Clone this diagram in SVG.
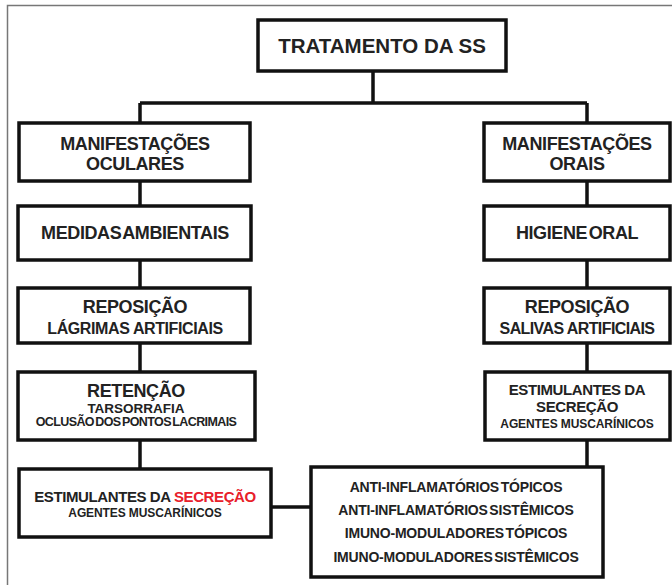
<svg xmlns="http://www.w3.org/2000/svg" width="672" height="585" viewBox="0 0 672 585">
<style>
.box{fill:#fff;stroke:#111;stroke-width:3.5}
.conn{fill:none;stroke:#111;stroke-width:3.5}
text{font-family:"Liberation Sans",Arial,sans-serif;font-weight:bold;fill:#222;text-anchor:middle}
.t20{font-size:20.5px}
.t18{font-size:18px;letter-spacing:-0.4px}
.t16{font-size:16px;letter-spacing:-0.4px}
.t15{font-size:15px;letter-spacing:-0.4px}
.t14{font-size:14px;letter-spacing:-0.2px;word-spacing:-2px}
.t13{font-size:13.5px}
.t12{font-size:12px;letter-spacing:-0.1px}
.t125{font-size:12.5px;letter-spacing:-0.6px;word-spacing:-1.5px}
.red{fill:#e8202a}
</style>
<rect x="7.5" y="5.5" width="700" height="700" fill="none" stroke="#777" stroke-width="1.5"/>
<g id="connectors">
<path class="conn" d="M373 71V103M140 103H587M140 103V123M587 103V123"/>
<path class="conn" d="M140 181V206M140 260V288M140 343V372M140 440V469"/>
<path class="conn" d="M587 181V206M587 260V288M587 343V372M587 440V467"/>
<path class="conn" d="M271 507H311"/>
</g>
<g id="title"><rect class="box" x="258" y="20" width="248" height="51"/><text class="t20" x="382" y="53">TRATAMENTO DA SS</text></g>
<g id="man-oculares"><rect class="box" x="19" y="123" width="231" height="58"/><text class="t18" x="135" y="150">MANIFESTAÇÕES</text><text class="t18" x="135" y="170">OCULARES</text></g>
<g id="man-orais"><rect class="box" x="484" y="123" width="186" height="58"/><text class="t18" x="577" y="150">MANIFESTAÇÕES</text><text class="t18" x="577" y="170">ORAIS</text></g>
<g id="medidas"><rect class="box" x="18" y="206" width="233" height="54"/><text class="t18" x="135" y="239" style="word-spacing:-3px">MEDIDAS AMBIENTAIS</text></g>
<g id="higiene"><rect class="box" x="484" y="206" width="186" height="54"/><text class="t18" x="577" y="239" style="word-spacing:-3px">HIGIENE ORAL</text></g>
<g id="repos-lagrimas"><rect class="box" x="18" y="288" width="232" height="55"/><text class="t18" x="135" y="313">REPOSIÇÃO</text><text class="t16" x="135" y="334">LÁGRIMAS ARTIFICIAIS</text></g>
<g id="repos-salivas"><rect class="box" x="484" y="288" width="186" height="55"/><text class="t18" x="577" y="313">REPOSIÇÃO</text><text class="t16" x="577" y="334" style="letter-spacing:-0.6px">SALIVAS ARTIFICIAIS</text></g>
<g id="retencao"><rect class="box" x="18" y="372" width="237" height="68"/><text class="t18" x="136" y="397">RETENÇÃO</text><text class="t13" x="136" y="413">TARSORRAFIA</text><text class="t125" x="136" y="426">OCLUSÃO DOS PONTOS LACRIMAIS</text></g>
<g id="estim-orais"><rect class="box" x="485" y="372" width="185" height="68"/><text class="t15" x="577" y="395">ESTIMULANTES DA</text><text class="t15" x="577" y="412">SECREÇÃO</text><text class="t12" x="577" y="428">AGENTES MUSCARÍNICOS</text></g>
<g id="estim-oculares"><rect class="box" x="19" y="469" width="252" height="68"/><text class="t15" x="145" y="502">ESTIMULANTES DA <tspan class="red">SECREÇÃO</tspan></text><text class="t12" x="145" y="517">AGENTES MUSCARÍNICOS</text></g>
<g id="anti"><rect class="box" x="311" y="467" width="292" height="110"/><text class="t14" x="456" y="492">ANTI-INFLAMATÓRIOS TÓPICOS</text><text class="t14" x="456" y="515">ANTI-INFLAMATÓRIOS SISTÊMICOS</text><text class="t14" x="456" y="538">IMUNO-MODULADORES TÓPICOS</text><text class="t14" x="456" y="562">IMUNO-MODULADORES SISTÊMICOS</text></g>
</svg>
